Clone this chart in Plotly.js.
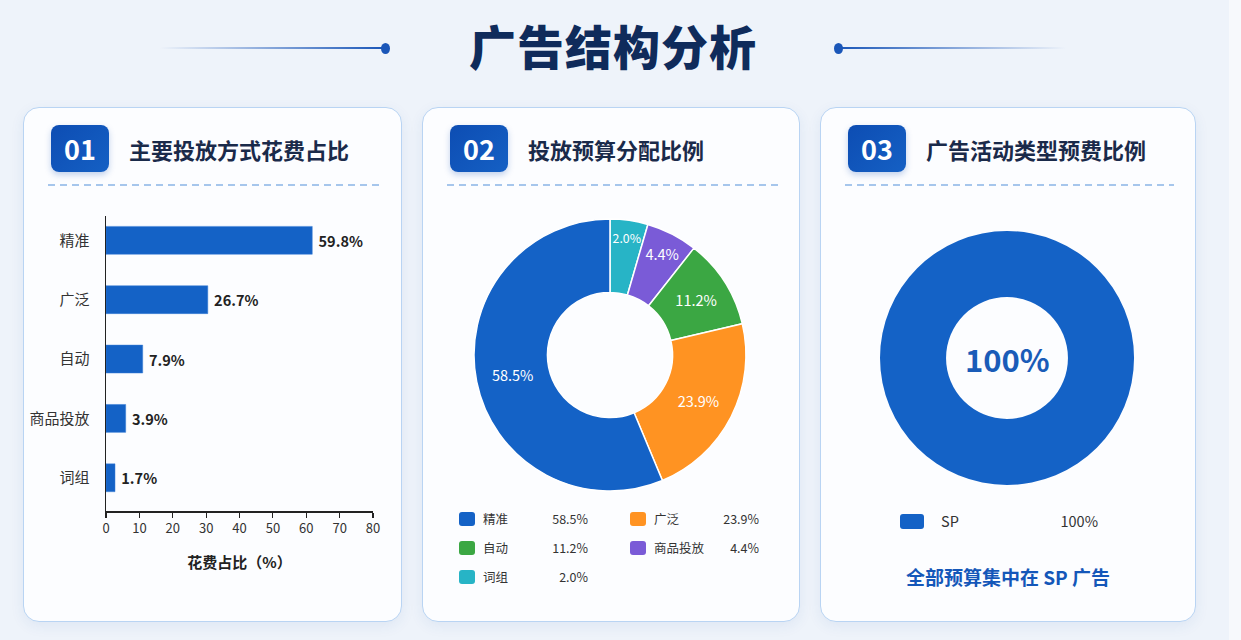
<!DOCTYPE html>
<html>
<head>
<meta charset="utf-8">
<script src="https://cdn.plot.ly/plotly-3.0.1.min.js"></script>
<style>
  html, body { margin: 0; padding: 0; }
  body {
    width: 1241px; height: 640px; position: relative; overflow: hidden;
    background: #eef3fa;
    font-family: "Noto Sans CJK SC", "Noto Sans", sans-serif;
  }
  #strip { position: absolute; left: 1229px; top: 0; width: 12px; height: 640px; background: #f7f9fc; }
  #title {
    position: absolute; left: 0; top: 15px; width: 1226px; text-align: center;
    font-size: 47px; line-height: 60px; font-weight: 900; color: #0f2b5b; letter-spacing: 1px;
  }
  .hline { position: absolute; top: 47px; height: 2px; }
  .dot { position: absolute; top: 43px; width: 9px; height: 11px; border-radius: 50%; background: #1a56b8; }
  .card {
    position: absolute; top: 107px; height: 513px;
    background: #fcfdff; border: 1.5px solid #b9d4f3; border-radius: 16px;
    box-shadow: 0 4px 14px rgba(40, 90, 170, 0.08);
  }
  .badge {
    position: absolute; left: 27px; top: 17px; width: 58px; height: 47px; border-radius: 8px;
    background: linear-gradient(135deg, #0d4db3, #1560c4); color: #fff;
    font-size: 27px; font-weight: 700; line-height: 47px; text-align: center;
    box-shadow: 0 3px 6px rgba(20, 80, 180, 0.25);
  }
  .head {
    position: absolute; left: 105px; top: 24px; font-size: 22px; font-weight: 700;
    color: #1a2a4a; line-height: 34px; white-space: nowrap;
  }
  .dash {
    position: absolute; left: 24px; right: 21px; top: 76px; height: 1.5px;
    background: repeating-linear-gradient(to right, #a6c6ec 0 7px, rgba(0,0,0,0) 7px 12px);
  }
  .plot { position: absolute; }
  .lg { position: absolute; font-size: 12.5px; color: #333; line-height: 18px; white-space: nowrap; }
  .sw { position: absolute; border-radius: 3px; }
</style>
</head>
<body>
<div id="strip"></div>
<div class="hline" style="left:160px;width:225px;background:linear-gradient(to right, rgba(26,86,184,0), #1a56b8);"></div>
<div class="dot" style="left:381px;"></div>
<div class="dot" style="left:834px;"></div>
<div class="hline" style="left:838px;width:228px;background:linear-gradient(to right, #1a56b8, rgba(26,86,184,0));"></div>
<div id="title">广告结构分析</div>

<div class="card" style="left:23px;width:377px;">
  <div class="badge">01</div>
  <div class="head">主要投放方式花费占比</div>
  <div class="dash"></div>
</div>
<div class="card" id="card2" style="left:422px;width:376px;">
  <div class="badge">02</div>
  <div class="head">投放预算分配比例</div>
  <div class="dash"></div>
</div>
<div class="card" id="card3" style="left:820px;width:374px;">
  <div class="badge">03</div>
  <div class="head">广告活动类型预费比例</div>
  <div class="dash"></div>
</div>

<div class="plot" id="bar_plot" style="left:23px;top:190px;width:379px;height:400px;"></div>
<div class="plot" id="budget_plot" style="left:422px;top:200px;width:378px;height:310px;"></div>
<div class="plot" id="type_plot" style="left:820px;top:210px;width:376px;height:300px;"></div>

<script>
// 01 bar chart
const barCategories = ['精准', '广泛', '自动', '商品投放', '词组']
const barValues = [61.8, 30.5, 11.0, 5.9, 2.7]
const barLabels = ['59.8%', '26.7%', '7.9%', '3.9%', '1.7%']
const barTicks = [0, 10, 20, 30, 40, 50, 60, 70, 80]

// 02 budget donut
const budgetNames = ['精准', '广泛', '自动', '商品投放', '词组']
const budgetValues = [56.3, 22.4, 10.7, 6.1, 4.5]
const budgetLabels = ['58.5%', '23.9%', '11.2%', '4.4%', '2.0%']
const budgetColors = ['#1462c6', '#ff9322', '#3ba743', '#7a5bd7', '#27b4c6']

// 03 campaign type donut
const typeNames = ['SP']
const typeValues = [100]
const typeLabels = ['100%']
const typeColors = ['#1462c6']

const font_cjk = '"Noto Sans CJK SC", "Noto Sans", sans-serif'
const config = { displayModeBar: false, staticPlot: true }

function draw_bar()
{
    const data = [{
        type: 'bar', orientation: 'h',
        x: barValues, y: barCategories,
        text: barLabels, texttemplate: ' %{text}', textposition: 'outside', cliponaxis: false,
        textfont: { size: 14.5, color: '#222', family: font_cjk, weight: 'bold' },
        marker: { color: '#1462c6', line: { color: '#3a7fd6', width: 0.5 } },
        width: 0.47,
    }]
    const layout = {
        width: 379, height: 400,
        margin: { l: 83, r: 29, t: 26, b: 79 },
        paper_bgcolor: 'rgba(0,0,0,0)', plot_bgcolor: 'rgba(0,0,0,0)',
        font: { family: font_cjk, color: '#333' },
        showlegend: false,
        xaxis: {
            range: [0, 80], tickvals: barTicks, ticks: 'outside', ticklen: 5, tickwidth: 1.2, tickcolor: '#222',
            showline: true, linecolor: '#222', linewidth: 1.5, showgrid: false, zeroline: false,
            tickfont: { size: 13, color: '#333' },
            title: { text: '花费占比（%）', font: { size: 15, color: '#222', weight: 'bold' }, standoff: 21 },
        },
        yaxis: {
            type: 'category', range: [4.56, -0.41],
            showline: true, linecolor: '#222', linewidth: 1.5, showgrid: false, zeroline: false,
            ticks: '', ticklabelstandoff: 12,
            tickfont: { size: 15, color: '#333' },
        },
    }
    Plotly.newPlot('bar_plot', data, layout, config)
}

function draw_donut(div, names, values, labels, colors, dom, hole, showText, w, h, centre)
{
    // slices run clockwise from 12 o'clock starting with the smallest
    const data = [{
        type: 'pie', labels: names.slice().reverse(), values: values.slice().reverse(),
        text: labels.slice().reverse(),
        sort: false, direction: 'clockwise', rotation: 0, hole: hole,
        textinfo: showText ? 'text' : 'none', textposition: 'inside', insidetextorientation: 'horizontal',
        textfont: { size: 14.5, color: '#fff', family: font_cjk },
        marker: { colors: colors.slice().reverse(), line: { color: '#fff', width: showText ? 1.5 : 0 } },
        domain: dom,
    }]
    const layout = {
        width: w, height: h,
        margin: { l: 0, r: 0, t: 0, b: 0 },
        paper_bgcolor: 'rgba(0,0,0,0)',
        font: { family: font_cjk },
        showlegend: false,
        annotations: centre ? [{
            text: centre, showarrow: false, xref: 'paper', yref: 'paper',
            x: (dom.x[0] + dom.x[1]) / 2, y: (dom.y[0] + dom.y[1]) / 2,
            font: { size: 31, color: '#1a5cb8', weight: 'bold' },
        }] : [],
    }
    Plotly.newPlot(div, data, layout, config)
}

function draw_legend(cardId, names, labels, colors, opts)
{
    const card = document.getElementById(cardId)
    names.forEach((name, i) => {
        const col = i % opts.cols
        const row = Math.floor(i / opts.cols)
        const x = opts.x0 + col * opts.dx
        const y = opts.y0 + row * opts.dy

        const sw = document.createElement('div')
        sw.className = 'sw'
        sw.style.cssText = `left:${x}px;top:${y - opts.sh / 2}px;width:${opts.sw}px;height:${opts.sh}px;background:${colors[i]};`
        card.appendChild(sw)

        const nm = document.createElement('div')
        nm.className = 'lg'
        nm.textContent = name
        nm.style.cssText = `left:${x + opts.nameOff}px;top:${y - 9}px;font-size:${opts.fs}px;`
        card.appendChild(nm)

        const val = document.createElement('div')
        val.className = 'lg'
        val.textContent = labels[i]
        val.style.cssText = `left:${x + opts.valRight - 80}px;width:80px;text-align:right;top:${y - 9}px;font-size:${opts.fs}px;`
        card.appendChild(val)
    })
}

draw_bar()

draw_donut('budget_plot', budgetNames, budgetValues, budgetLabels, budgetColors,
    { x: [0.1376, 0.857], y: [0.0613, 0.9387] }, 0.46, true, 378, 310, null)
draw_legend('card2', budgetNames, budgetLabels, budgetColors,
    { cols: 2, x0: 36, dx: 171, y0: 411, dy: 29, sw: 16, sh: 14, nameOff: 24, valRight: 129, fs: 12.5 })

draw_donut('type_plot', typeNames, typeValues, typeLabels, typeColors,
    { x: [0.1596, 0.8351], y: [0.0833, 0.93] }, 0.48, false, 376, 300, typeLabels[0])
draw_legend('card3', typeNames, typeLabels, typeColors,
    { cols: 1, x0: 79, dx: 0, y0: 413, dy: 0, sw: 24, sh: 15, nameOff: 41, valRight: 198, fs: 14.5 })

const foot = document.createElement('div')
foot.textContent = '全部预算集中在 SP 广告'
foot.style.cssText = 'position:absolute;left:0;width:100%;top:454px;text-align:center;font-size:19px;font-weight:700;color:#1457b9;line-height:30px;'
document.getElementById('card3').appendChild(foot)
</script>
</body>
</html>
